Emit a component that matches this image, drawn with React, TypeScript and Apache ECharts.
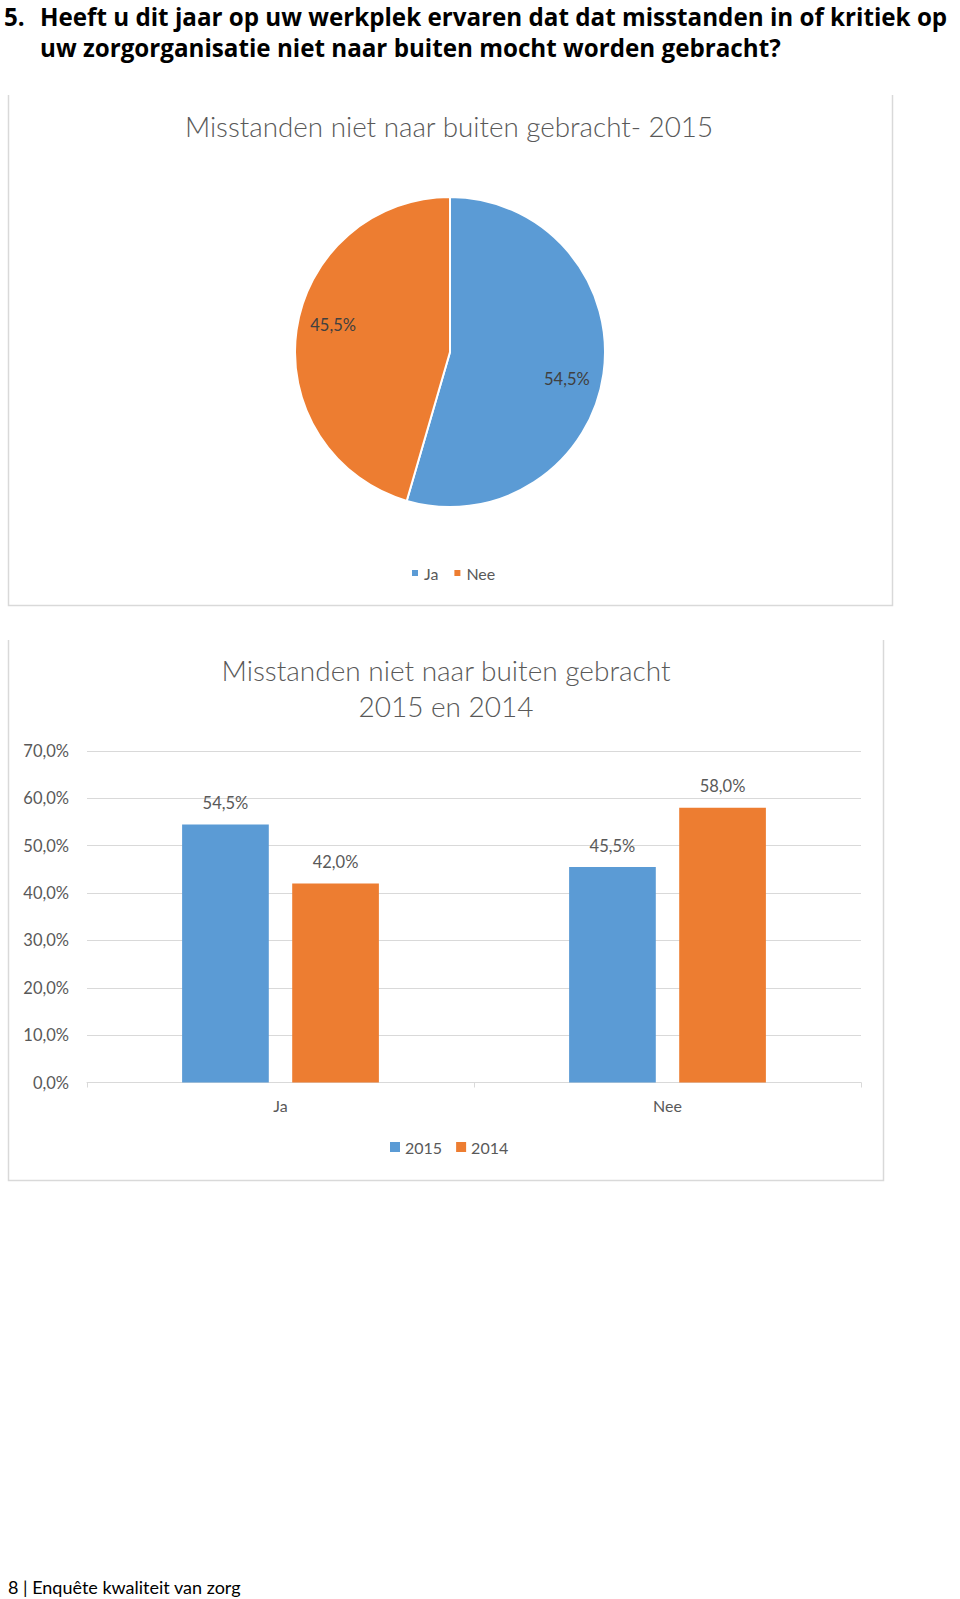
import React, { useEffect, useRef } from "react";
import * as echarts from "echarts";

const headerLines = [
  "5.",
  "Heeft u dit jaar op uw werkplek ervaren dat dat misstanden in of kritiek op",
  "uw zorgorganisatie niet naar buiten mocht worden gebracht?",
];
const footerText = "8 | Enquête kwaliteit van zorg";

const pieTitle = "Misstanden niet naar buiten gebracht- 2015";
const pieNames = ["Ja", "Nee"];
const pieValues = [54.5, 45.5];

const barTitle = "Misstanden niet naar buiten gebracht\n2015 en 2014";
const barCategories = ["Ja", "Nee"];
const barSeriesNames = ["2015", "2014"];
const values2015 = [54.5, 45.5];
const values2014 = [42.0, 58.0];
const yTicks = { min: 0, max: 70, interval: 10 };

const BLUE = "#5B9BD5";
const ORANGE = "#ED7D31";
const TEXT = "#595959";
const GRID = "#D9D9D9";
const FONT = "Lato, 'Open Sans', sans-serif";
const HFONT = "'Open Sans', Lato, sans-serif";

const pct = (v: number) => v.toFixed(1).replace(".", ",") + "%";

export default function App() {
  const ref = useRef<HTMLDivElement>(null);
  useEffect(() => {
    if (!ref.current) return;
    const chart = echarts.init(ref.current, undefined, { renderer: "svg" });
    const colors = [BLUE, ORANGE];
    const option: any = {
      animation: false,
      backgroundColor: "#ffffff",
      textStyle: { fontFamily: FONT },
      title: [
        {
          text: pieTitle,
          left: 444,
          top: 107,
          textAlign: "center",
          textStyle: { fontFamily: FONT, fontSize: 27.8, fontWeight: 300, color: TEXT },
        },
        {
          text: barTitle,
          left: 441,
          top: 647,
          textAlign: "center",
          textStyle: { fontFamily: FONT, fontSize: 28, fontWeight: 300, color: TEXT, lineHeight: 36 },
        },
      ],
      legend: [
        {
          data: pieNames,
          left: 405,
          top: 560,
          icon: "rect",
          itemWidth: 8,
          itemHeight: 8,
          itemGap: 14,
          textStyle: { fontFamily: FONT, fontSize: 16, color: TEXT },
        },
        {
          data: barSeriesNames,
          left: 385,
          top: 1134,
          icon: "rect",
          itemWidth: 10,
          itemHeight: 10,
          itemGap: 14,
          textStyle: { fontFamily: FONT, fontSize: 16, color: TEXT },
        },
      ],
      grid: { left: 87, right: 99, top: 751, bottom: 516.5, containLabel: false },
      xAxis: {
        type: "category",
        data: barCategories,
        axisLine: { lineStyle: { color: GRID } },
        axisTick: { show: true, length: 5, lineStyle: { color: GRID } },
        axisLabel: { fontFamily: FONT, fontSize: 16, color: TEXT, margin: 15 },
      },
      yAxis: {
        type: "value",
        min: yTicks.min,
        max: yTicks.max,
        interval: yTicks.interval,
        axisLine: { show: false },
        axisTick: { show: false },
        splitLine: { lineStyle: { color: GRID, width: 1 } },
        axisLabel: {
          fontFamily: FONT,
          fontSize: 16.5,
          color: TEXT,
          margin: 18,
          formatter: (v: number) => pct(v),
        },
      },
      series: [
        {
          type: "pie",
          name: "pie",
          center: [450, 352],
          radius: [0, 155],
          startAngle: 90,
          clockwise: true,
          label: { show: false },
          labelLine: { show: false },
          itemStyle: { borderColor: "#ffffff", borderWidth: 2 },
          emphasis: { disabled: true },
          data: pieNames.map((n, i) => ({ name: n, value: pieValues[i], itemStyle: { color: colors[i] } })),
        },
        {
          type: "pie",
          name: "pieLabels",
          center: [450, 352],
          radius: [98, 136],
          startAngle: 85,
          clockwise: true,
          silent: true,
          legendHoverLink: false,
          itemStyle: { color: "rgba(0,0,0,0)" },
          label: {
            show: true,
            position: "inside",
            fontFamily: FONT,
            fontSize: 16.5,
            color: "#404040",
            formatter: (p: any) => pct(p.value),
          },
          labelLine: { show: false },
          emphasis: { disabled: true },
          data: pieNames.map((n, i) => ({ name: "lbl" + n, value: pieValues[i] })),
        },
        {
          type: "bar",
          name: barSeriesNames[0],
          data: values2015,
          barWidth: "22.4%",
          barGap: "27%",
          itemStyle: { color: BLUE },
          label: {
            show: true,
            position: "top",
            distance: 13,
            fontFamily: FONT,
            fontSize: 16.5,
            color: TEXT,
            formatter: (p: any) => pct(p.value),
          },
        },
        {
          type: "bar",
          name: barSeriesNames[1],
          data: values2014,
          barWidth: "22.4%",
          barGap: "27%",
          itemStyle: { color: ORANGE },
          label: {
            show: true,
            position: "top",
            distance: 13,
            fontFamily: FONT,
            fontSize: 16.5,
            color: TEXT,
            formatter: (p: any) => pct(p.value),
          },
        },
      ],
      graphic: [
        {
          type: "polyline",
          shape: { points: [[8.5, 95], [8.5, 605.5], [892.5, 605.5], [892.5, 95]] },
          style: { stroke: GRID, fill: null, lineWidth: 1.5 },
          silent: true,
        },
        {
          type: "polyline",
          shape: { points: [[8.5, 640], [8.5, 1180.5], [883.5, 1180.5], [883.5, 640]] },
          style: { stroke: GRID, fill: null, lineWidth: 1.5 },
          silent: true,
        },
        {
          type: "text",
          left: 4,
          top: 4,
          style: { text: headerLines[0], font: "bold 24.2px " + HFONT, fill: "#000000" },
        },
        {
          type: "text",
          left: 40,
          top: 4,
          style: { text: headerLines[1], font: "bold 24.2px " + HFONT, fill: "#000000" },
        },
        {
          type: "text",
          left: 40,
          top: 35,
          style: { text: headerLines[2], font: "bold 24.2px " + HFONT, fill: "#000000" },
        },
        {
          type: "text",
          left: 8,
          top: 1578,
          style: { text: footerText, font: "18px " + FONT, fill: "#000000" },
        },
      ],
    };
    chart.setOption(option);
    return () => chart.dispose();
  }, []);
  return (
    <div
      ref={ref}
      style={{ position: "absolute", left: 0, top: 0, width: 960, height: 1599 }}
    />
  );
}
